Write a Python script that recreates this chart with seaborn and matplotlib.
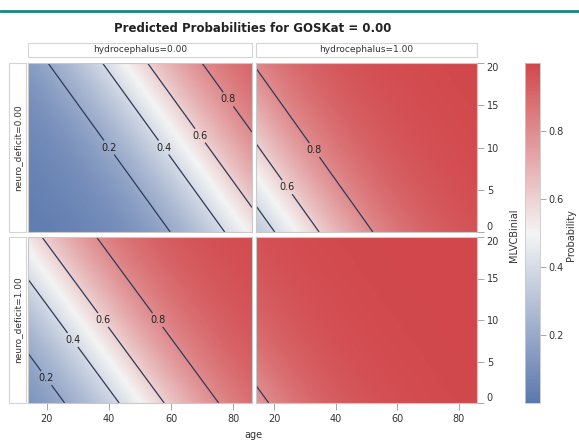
import numpy as np
import pandas as pd
import seaborn as sns
import matplotlib
matplotlib.use("Agg")
import matplotlib.pyplot as plt
from matplotlib.patches import Rectangle
from matplotlib.lines import Line2D
from matplotlib.colors import Normalize
from matplotlib.cm import ScalarMappable

# ---------------- data ----------------
title = "Predicted Probabilities for GOSKat = 0.00"
age_range = [14, 86]
mlvc_range = [0, 20]
hydro_levels = [0.00, 1.00]
neuro_levels = [0.00, 1.00]
# logistic model coefficients estimated from contour positions
intercept = -4.73
coef_age = 0.056
coef_mlvc = 0.110
coef_hydro = 3.2
coef_neuro = 1.9
contour_levels = [0.2, 0.4, 0.6, 0.8]
x_ticks = [20, 40, 60, 80]
y_ticks = [0, 5, 10, 15, 20]
cbar_ticks = [0.2, 0.4, 0.6, 0.8]
cbar_range = [0.0, 1.0]

# ---------------- build surface table ----------------
age_grid = np.linspace(age_range[0], age_range[1], 145)
mlvc_grid = np.linspace(mlvc_range[0], mlvc_range[1], 81)
rows = []
for h in hydro_levels:
    for n in neuro_levels:
        A, M = np.meshgrid(age_grid, mlvc_grid)
        eta = intercept + coef_age * A + coef_mlvc * M + coef_hydro * h + coef_neuro * n
        p = 1 / (1 + np.exp(-eta))
        rows.append(pd.DataFrame({"age": A.ravel(), "MLVCBinial": M.ravel(),
                                  "hydrocephalus": h, "neuro_deficit": n,
                                  "Probability": p.ravel()}))
df = pd.concat(rows, ignore_index=True)

# ---------------- style ----------------
sns.set_style("white")
plt.rcParams["font.family"] = ["DejaVu Sans"]
cmap = sns.blend_palette(["#5B78AE", "#F4F4F4", "#D1474B"], n_colors=256, as_cmap=True)
norm = Normalize(vmin=cbar_range[0], vmax=cbar_range[1])
W, H = 579, 442
fig = plt.figure(figsize=(W / 100, H / 100), dpi=100)

def fx(x):
    return x / W

def fy(y):
    return 1 - y / H

col_px = [(28, 252), (256, 477)]
row_px = [(63, 232), (237, 403)]
line_col = "#2E3A58"
frame_col = "#C9C9C9"
text_col = "#333333"

# label heights (MLVC) for contour labels per panel
label_heights = {
    (0, 0): {0.2: 10, 0.4: 10, 0.6: 11.4, 0.8: 15.7},
    (1, 0): {0.6: 5.3, 0.8: 9.7},
    (0, 1): {0.2: 3, 0.4: 7.6, 0.6: 10, 0.8: 10},
    (1, 1): {},
}

for ci, h in enumerate(hydro_levels):
    for ri, n in enumerate(neuro_levels):
        x0, x1 = col_px[ci]
        y0, y1 = row_px[ri]
        ax = fig.add_axes([fx(x0), fy(y1), (x1 - x0) / W, (y1 - y0) / H])
        sub = df[(df.hydrocephalus == h) & (df.neuro_deficit == n)]
        piv = sub.pivot(index="MLVCBinial", columns="age", values="Probability")
        ax.pcolormesh(piv.columns.values, piv.index.values, piv.values,
                      cmap=cmap, norm=norm, shading="gouraud", rasterized=True)
        cs = ax.contour(piv.columns.values, piv.index.values, piv.values,
                        levels=contour_levels, colors=line_col, linewidths=0.9)
        manual = []
        for lev, m in label_heights[(ci, ri)].items():
            eta = np.log(lev / (1 - lev))
            a = (eta - intercept - coef_mlvc * m - coef_hydro * h - coef_neuro * n) / coef_age
            manual.append((a, m))
        if manual:
            txts = ax.clabel(cs, levels=cs.levels, manual=manual, inline=True,
                             inline_spacing=1, fontsize=7, colors="#222222", fmt="%.1f")
            for t in txts:
                t.set_rotation(0)
        ax.set_xlim(age_range)
        ax.set_ylim(mlvc_range)
        for s in ax.spines.values():
            s.set_color(frame_col)
            s.set_linewidth(0.8)
        ax.set_xticks(x_ticks)
        ax.set_yticks(y_ticks)
        ax.tick_params(length=5, width=0.6, color="#999999", labelsize=7,
                       labelcolor=text_col, pad=3)
        if ri == 1:
            ax.tick_params(axis="x", bottom=True)
        else:
            ax.tick_params(axis="x", bottom=False, labelbottom=False)
        if ci == 1:
            ax.yaxis.tick_right()
            ax.tick_params(axis="y", right=True, left=False, pad=2)
            labs = ax.get_yticklabels()
            labs[0].set_verticalalignment("bottom")
            labs[-1].set_verticalalignment("top")
        else:
            ax.tick_params(axis="y", left=False, labelleft=False)
        ax.set_xlabel("")
        ax.set_ylabel("")

# column header boxes
for ci, h in enumerate(hydro_levels):
    x0, x1 = col_px[ci]
    fig.add_artist(Rectangle((fx(x0), fy(57)), (x1 - x0) / W, 14 / H,
                             transform=fig.transFigure, facecolor="white",
                             edgecolor="#D4D4D4", lw=0.8))
    fig.text(fx((x0 + x1) / 2), fy(50), f"hydrocephalus={h:.2f}", ha="center",
             va="center", fontsize=6.5, color=text_col)

# row header boxes
for ri, n in enumerate(neuro_levels):
    y0, y1 = row_px[ri]
    fig.add_artist(Rectangle((fx(9), fy(y1)), 17 / W, (y1 - y0) / H,
                             transform=fig.transFigure, facecolor="white",
                             edgecolor="#D4D4D4", lw=0.8))
    fig.text(fx(18), fy((y0 + y1) / 2), f"neuro_deficit={n:.2f}", ha="center",
             va="center", rotation=90, fontsize=6.5, color=text_col)

# colorbar
cax = fig.add_axes([fx(525), fy(403), 15 / W, 340 / H])
cb = fig.colorbar(ScalarMappable(norm=norm, cmap=cmap), cax=cax)
cb.set_ticks(cbar_ticks)
cb.ax.tick_params(length=4, width=0.6, color="#999999", labelsize=7,
                  labelcolor=text_col, pad=2)
cb.outline.set_edgecolor(frame_col)
cb.outline.set_linewidth(0.6)

# texts
fig.text(fx(253), fy(29), title, ha="center", va="center", fontsize=8.5,
         fontweight="bold", color="#222222")
fig.text(fx(514), fy(235), "MLVCBinial", rotation=90, ha="center", va="center",
         fontsize=7, color=text_col)
fig.text(fx(571), fy(235), "Probability", rotation=90, ha="center", va="center",
         fontsize=7, color=text_col)
fig.text(fx(253), fy(435), "age", ha="center", va="center", fontsize=7, color=text_col)

# decorative teal rule at top
fig.add_artist(Line2D([fx(0), fx(579)], [fy(11), fy(11)], transform=fig.transFigure,
                      color="#17897A", lw=2))

fig.savefig("out.png", dpi=100)
